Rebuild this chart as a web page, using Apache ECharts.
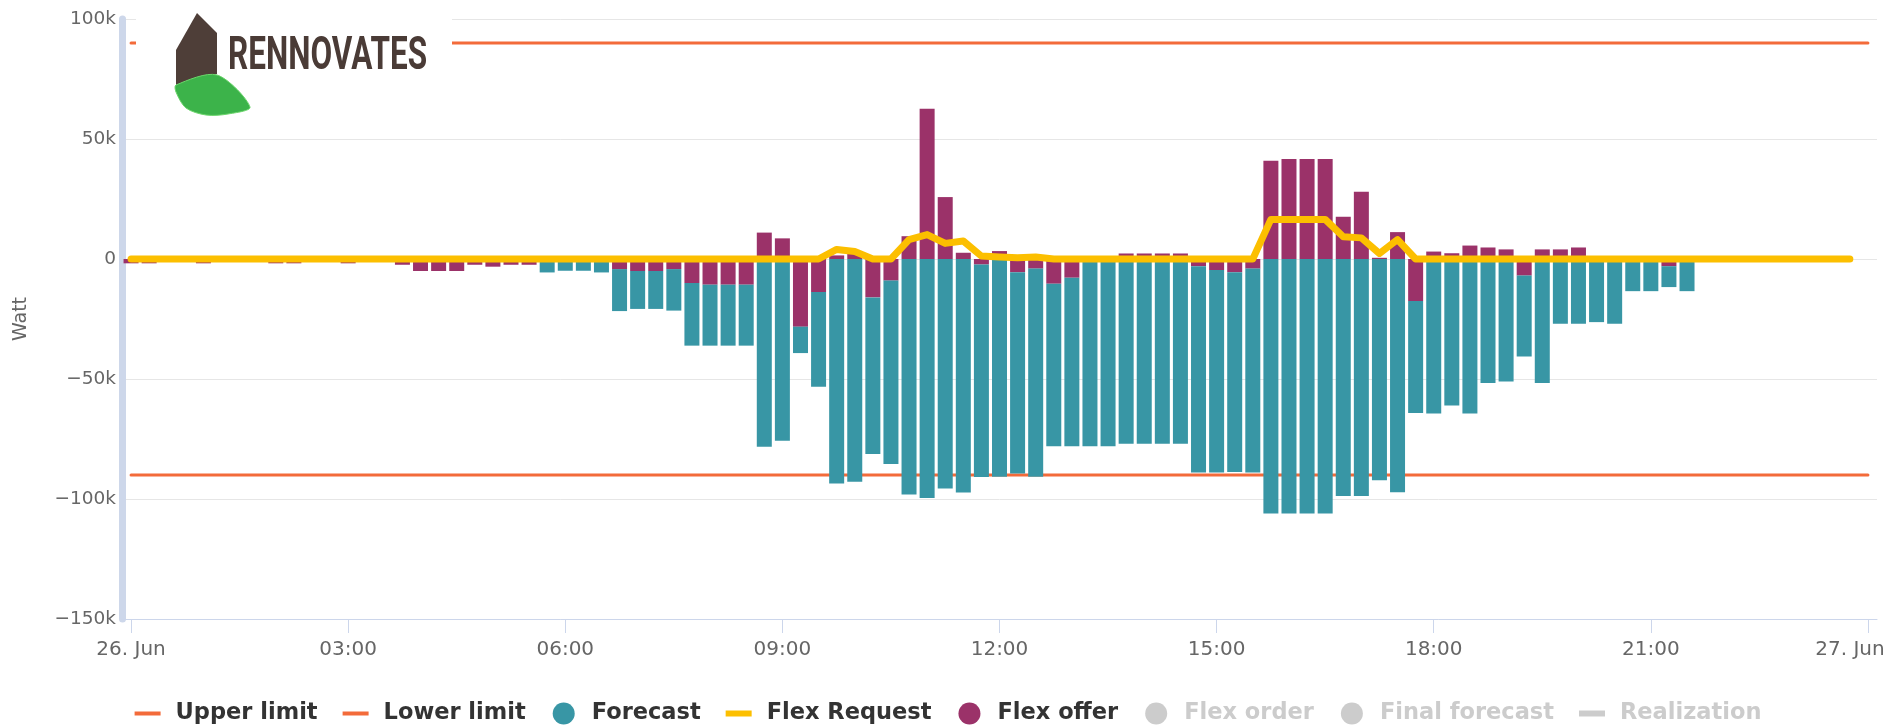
<!DOCTYPE html>
<html>
<head>
<meta charset="utf-8">
<title>Flex request / offer</title>
<script src="https://cdn.jsdelivr.net/npm/echarts@6.0.0/dist/echarts.min.js"></script>
<style>
  html, body { margin: 0; padding: 0; background: #fff; }
  #chart { width: 1896px; height: 725px; }
</style>
</head>
<body>
<div id="chart"></div>
<script>
// kW per quarter hour, 26 Jun 00:00 .. 23:45 (one row = 3 hours)
var flexOffer = [
    -1.8, -1.8, 0, 0, -1.8, 0, 0, 0, -1.8, -1.8, 0, 0,
    -1.8, 0, 0, -2.4, -5, -5, -5, -2.4, -3.2, -2.4, -2.4, 0,
    0, 0, 0, -4.2, -5, -5, -4.2, -10, -10.7, -10.7, -10.7, 11,
    8.6, -28.2, -13.8, 1.5, 2.5, -16, -9, 9.5, 62.6, 25.8, 2.6, -2.3,
    3.3, -5.5, -4, -10.3, -7.8, 0, 0, 2.3, 2.3, 2.3, 2.3, -3,
    -4.6, -5.5, -4, 40.9, 41.7, 41.7, 41.7, 17.6, 28, 0.5, 11.2, -17.5,
    3.1, 2.4, 5.6, 4.8, 4, -6.9, 4, 4, 4.8, 0, 0, 0,
    0, -3, 0, 0, 0, 0, 0, 0, 0, 0, 0, 0
];
var forecast = [
    0, 0, 0, 0, 0, 0, 0, 0, 0, 0, 0, 0,
    0, 0, 0, 0, 0, 0, 0, 0, 0, 0, 0, -5.6,
    -4.9, -4.9, -5.6, -17.5, -15.8, -15.8, -17.3, -26.1, -25.4, -25.4, -25.4, -78.2,
    -75.7, -11, -39.4, -93.5, -92.8, -65.2, -76.4, -98.1, -99.6, -95.6, -97.3, -88.5,
    -90.7, -83.9, -86.7, -67.7, -70.2, -78, -78, -77, -77, -77, -77, -86,
    -84.4, -83.2, -85, -106, -106, -106, -106, -98.8, -98.8, -92.2, -97.2, -46.7,
    -64.4, -61, -64.4, -51.7, -51, -33.7, -51.7, -27, -27, -26.3, -27, -13.4,
    -13.4, -8.7, -13.4, 0, 0, 0, 0, 0, 0, 0, 0, 0
];
var flexRequest = [
    0, 0, 0, 0, 0, 0, 0, 0, 0, 0, 0, 0,
    0, 0, 0, 0, 0, 0, 0, 0, 0, 0, 0, 0,
    0, 0, 0, 0, 0, 0, 0, 0, 0, 0, 0, 0,
    0, 0, 0, 4, 3.1, 0, 0, 8.1, 10.2, 6.5, 7.5, 1.2,
    0.8, 0.5, 0.8, 0, 0, 0, 0, 0, 0, 0, 0, 0,
    0, 0, 0, 16.5, 16.5, 16.5, 16.5, 9.3, 8.8, 2.3, 8.1, 0,
    0, 0, 0, 0, 0, 0, 0, 0, 0, 0, 0, 0,
    0, 0, 0, 0, 0, 0, 0, 0, 0, 0, 0, 0
];
var upperLimit = 90;
var lowerLimit = -90;
// one label every 12 quarter hours, last one is 27 Jun 00:00
var tickLabels = ['26. Jun', '03:00', '06:00', '09:00', '12:00', '15:00', '18:00', '21:00', '27. Jun'];

var slots = [];   // quarter-hour category slots, 0 .. 96
for (var s = 0; s <= 96; s++) slots.push(s);

function kW(arr) {
    return arr.map(function (v) { return v * 1000; });
}
function limitPoints(v) {
    return [[0, v * 1000], [96, v * 1000]];
}

var lineIcon = 'path://M0,0 M26,22 M0,9 L26,9 L26,13 L0,13 Z';
var thickIcon = 'path://M0,0 M26,22 M0,8 L26,8 L26,14 L0,14 Z';
var dotIcon = 'path://M0,0 M26,22 M13,0 A11,11 0 0 1 13,22 A11,11 0 0 1 13,0 Z';

var font = 'DejaVu Sans';

var chart = echarts.init(document.getElementById('chart'));
var option = {
    animation: false,
    backgroundColor: '#fff',
    grid: { left: 122, right: 19, top: 19, bottom: 106, containLabel: false },
    legend: {
        top: 697,
        left: 'center',
        itemWidth: 26,
        itemHeight: 22,
        itemGap: 25,
        inactiveColor: '#cccccc',
        textStyle: { fontFamily: font, fontWeight: 'bold', fontSize: 22.5, color: '#333', padding: [0, 0, 0, 10] },
        data: [
            { name: 'Upper limit', icon: lineIcon },
            { name: 'Lower limit', icon: lineIcon },
            { name: 'Forecast', icon: dotIcon },
            { name: 'Flex Request', icon: thickIcon },
            { name: 'Flex offer', icon: dotIcon },
            { name: 'Flex order', icon: dotIcon },
            { name: 'Final forecast', icon: dotIcon },
            { name: 'Realization', icon: thickIcon }
        ],
        selected: { 'Flex order': false, 'Final forecast': false, 'Realization': false }
    },
    xAxis: {
        type: 'category',
        data: slots,
        boundaryGap: true,
        axisLine: { onZero: false, lineStyle: { color: '#ccd6eb', width: 1 } },
        axisTick: {
            show: true, alignWithLabel: true, length: 14, lineStyle: { color: '#ccd6eb' },
            interval: function (i) { return i % 12 === 0; }
        },
        axisLabel: {
            color: '#666',
            fontFamily: font,
            fontSize: 20,
            margin: 21,
            interval: function (i) { return i % 12 === 0; },
            formatter: function (v, i) {
                var idx = i / 12;
                if (idx === tickLabels.length - 1) return '{last|' + tickLabels[idx] + '}';
                return tickLabels[idx] || '';
            },
            rich: {
                last: { color: '#666', fontFamily: font, fontSize: 20, padding: [0, 36, 0, 0] }
            }
        },
        splitLine: { show: false }
    },
    yAxis: {
        type: 'value',
        min: -150000,
        max: 100000,
        interval: 50000,
        name: 'Watt',
        nameLocation: 'middle',
        nameGap: 91,
        nameTextStyle: { color: '#666', fontSize: 19, fontFamily: font },
        axisLine: { show: true, lineStyle: { color: '#cdd7ea', width: 7 } },
        axisTick: { show: false },
        axisLabel: {
            color: '#666',
            fontFamily: font,
            fontSize: 18.5,
            margin: 6,
            formatter: function (v) {
                if (v === 0) return '0';
                return (v < 0 ? '\u2212' : '') + Math.abs(v / 1000) + 'k';
            }
        },
        splitLine: { lineStyle: { color: '#e6e6e6', width: 1 } }
    },
    series: [
        {
            name: 'Upper limit', type: 'line', z: 1, color: '#f36b3a', symbol: 'none',
            lineStyle: { color: '#f36b3a', width: 3, cap: 'round' },
            data: limitPoints(upperLimit)
        },
        {
            name: 'Lower limit', type: 'line', z: 1, color: '#f36b3a', symbol: 'none',
            lineStyle: { color: '#f36b3a', width: 3, cap: 'round' },
            data: limitPoints(lowerLimit)
        },
        {
            name: 'Flex offer', type: 'bar', stack: 'power', z: 2, barWidth: 15, color: '#9b3269',
            data: kW(flexOffer)
        },
        {
            name: 'Forecast', type: 'bar', stack: 'power', z: 2, barWidth: 15, color: '#3896a5',
            data: kW(forecast)
        },
        {
            name: 'Flex Request', type: 'line', z: 3, color: '#fcbf00', symbol: 'none',
            lineStyle: { color: '#fcbf00', width: 7, cap: 'round', join: 'round' },
            data: kW(flexRequest)
        },
        { name: 'Flex order', type: 'bar', color: '#888', data: [] },
        { name: 'Final forecast', type: 'bar', color: '#888', data: [] },
        { name: 'Realization', type: 'line', color: '#888', symbol: 'none', data: [] }
    ],
    graphic: [
        { type: 'rect', z: 100, shape: { x: 136, y: 0, width: 316, height: 98 }, style: { fill: '#fff' } },
        {
            type: 'polygon', z: 101,
            shape: { points: [[176, 50], [197, 13], [217, 33], [217, 74], [176, 85]] },
            style: { fill: '#4e3e38' }
        },
        {
            type: 'polygon', z: 102,
            shape: { points: [[176, 85], [217, 75], [250, 107], [228, 114], [206, 115], [186, 108], [176, 92]], smooth: 0.3 },
            style: { fill: '#3cb34a', stroke: '#6bd66b', lineWidth: 1 }
        },
        {
            type: 'text', z: 103, x: 228, y: 57, scaleX: 0.685,
            style: { text: 'RENNOVATES', fontFamily: 'Roboto', fontWeight: 'bold', fontSize: 46, fill: '#4a3b36', verticalAlign: 'middle' }
        }
    ]
};
chart.setOption(option);
</script>
</body>
</html>
